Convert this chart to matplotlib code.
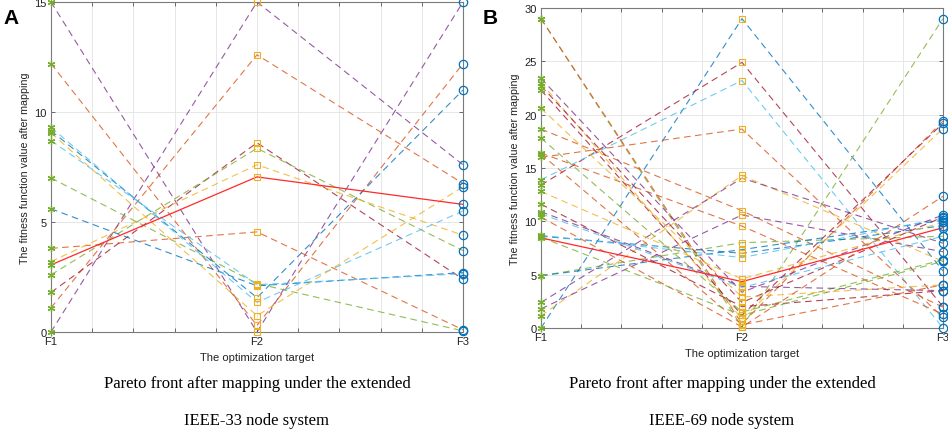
import matplotlib
matplotlib.use("Agg")
import matplotlib.pyplot as plt
import numpy as np

# ---------------- data ----------------
targets = ["F1", "F2", "F3"]

# MATLAB-like palette
C = {"b": "#0072BD", "o": "#D95319", "y": "#EDB120", "p": "#7E2F8E",
     "g": "#77AC30", "c": "#4DBEEE", "m": "#A2142F", "r": "#FF2A2A"}

# Panel A (IEEE-33): values at F1, F2, F3 for each solution
a_f1 = [15.0, 0.0, 12.2, 1.1, 3.8, 1.8, 2.6, 3.2, 3.05, 7.0, 5.6, 9.15, 9.3, 9.05, 8.7]
a_f2 = [0.0, 15.0, 0.3, 12.6, 4.55, 8.6, 8.35, 7.6, 7.05, 2.2, 2.1, 1.56, 1.35, 0.74, 2.15]
a_f3 = [15.0, 7.6, 12.2, 6.75, 0.1, 2.4, 3.7, 4.4, 5.8, 0.05, 2.7, 11.0, 5.5, 6.6, 2.65]
a_col = ["p", "p", "o", "o", "o", "m", "g", "y", "r", "g", "b", "b", "c", "y", "c"]

# Panel B (IEEE-69)
b_f1 = [0.0, 13.4, 13.9, 16.0, 29.0, 29.0, 22.3, 23.0, 1.15, 2.4, 1.8, 18.65, 16.4,
        8.45, 4.9, 4.9, 8.6, 8.7, 23.4, 22.7, 17.8, 20.6, 10.9, 11.6, 10.4, 12.8,
        10.7, 16.3, 8.5]
b_f2 = [29.0, 24.9, 23.2, 18.65, 0.1, 0.4, 1.2, 0.85, 14.3, 14.05, 10.6, 11.0, 9.55,
        4.35, 8.0, 7.35, 7.0, 6.6, 3.35, 2.4, 1.5, 2.9, 3.9, 2.0, 0.1, 4.6,
        3.8, 0.3, 1.2]
b_f3 = [5.35, 2.0, 0.0, 1.0, 29.0, 19.4, 19.2, 18.7, 6.25, 7.95, 7.15, 1.95, 1.3,
        9.4, 8.6, 10.1, 9.6, 10.3, 10.6, 10.4, 6.4, 4.05, 3.5, 3.5, 12.35, 9.9,
        8.6, 4.05, 6.25]
b_col = ["b", "m", "c", "o", "g", "o", "m", "y", "y", "p", "p", "o", "o",
         "r", "g", "b", "b", "c", "p", "m", "g", "y", "p", "m", "o", "y",
         "c", "o", "g"]

cap_a = ["Pareto front after mapping under the extended", "IEEE-33 node system"]
cap_b = ["Pareto front after mapping under the extended", "IEEE-69 node system"]

# ---------------- drawing ----------------
plt.rcParams["font.family"] = ["Liberation Sans", "DejaVu Sans"]

W, H = 948, 439
fig = plt.figure(figsize=(W / 100, H / 100), dpi=100)

def px_axes(l, r, t, b):
    return fig.add_axes([l / W, 1 - b / H, (r - l) / W, (b - t) / H])

def draw(ax, f1, f2, f3, cols, ymax, yticks):
    x = np.arange(1, len(targets) + 1)
    for v1, v2, v3, c in zip(f1, f2, f3, cols):
        if c == "r":
            ax.plot(x, [v1, v2, v3], color=C[c], lw=0.9, zorder=3)
        else:
            ax.plot(x, [v1, v2, v3], color=C[c], lw=0.8, ls=(0, (6, 4)),
                    alpha=0.8, zorder=2)
    ax.plot(np.full(len(f1), 1), f1, ls="none", marker=(6, 2, 0), ms=5.5,
            mfc=C["g"], mec=C["g"], mew=0.9, zorder=4, clip_on=False)
    ax.plot(np.full(len(f2), 2), f2, ls="none", marker="s", ms=5,
            mfc="none", mec=C["y"], mew=0.8, zorder=4, clip_on=False)
    ax.plot(np.full(len(f3), 3), f3, ls="none", marker="o", ms=6,
            mfc="none", mec=C["b"], mew=0.9, zorder=4, clip_on=False)
    ax.set_xlim(1, 3)
    ax.set_ylim(0, ymax)
    xt = np.arange(1, 3.001, 0.2)
    ax.set_xticks(xt)
    ax.set_xticklabels([targets[int(round(t)) - 1] if abs(t - round(t)) < 1e-6 else ""
                        for t in xt])
    ax.set_yticks(yticks)
    ax.grid(True, color="#e3e3e3", lw=0.6)
    ax.set_axisbelow(True)
    ax.tick_params(direction="in", length=3, width=0.6, colors="#555555",
                   labelcolor="#222222", labelsize=8, top=True, right=True, pad=3)
    for s in ax.spines.values():
        s.set_color("#7a7a7a")
        s.set_linewidth(0.8)
    ax.set_xlabel("The optimization target", fontsize=8, color="#222222", labelpad=4)
    ax.set_ylabel("The fitness function value after mapping", fontsize=7.7,
                  color="#222222", labelpad=3)

axA = px_axes(51, 463, 3, 333)
draw(axA, a_f1, a_f2, a_f3, a_col, 15, [0, 5, 10, 15])
axB = px_axes(541, 943, 9, 329)
draw(axB, b_f1, b_f2, b_f3, b_col, 30, [0, 5, 10, 15, 20, 25, 30])

fig.text(3 / W, 1 - 19 / H, "A", fontsize=15, fontweight="bold", va="center", ha="left")
fig.text(483 / W, 1 - 19 / H, "B", fontsize=15, fontweight="bold", va="center", ha="left")

for cx, cap in ((257, cap_a), (722, cap_b)):
    fig.text(cx / W, 1 - 384 / H, cap[0], fontsize=12, family="Liberation Serif",
             ha="center", va="center")
    fig.text(cx / W, 1 - 421 / H, cap[1], fontsize=12, family="Liberation Serif",
             ha="center", va="center")

fig.savefig("out.png", dpi=100)
